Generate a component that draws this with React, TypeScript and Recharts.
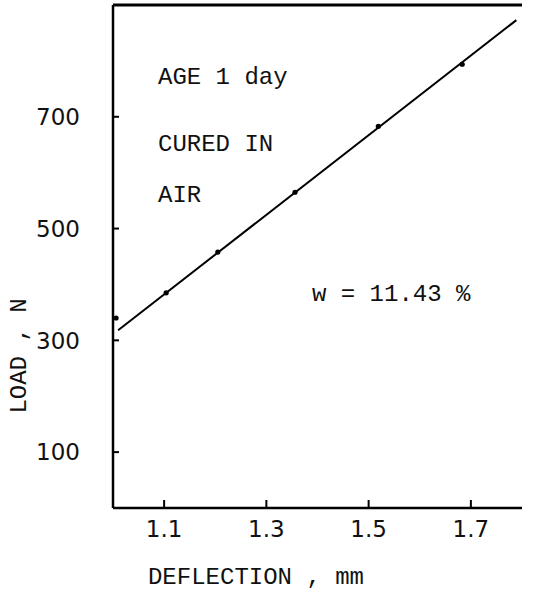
import React from 'react';
import { ComposedChart, Scatter, Line, XAxis, YAxis, ReferenceLine } from 'recharts';

const deflection = [1.006, 1.104, 1.205, 1.356, 1.519, 1.683];
const load = [340, 385, 458, 565, 683, 794];
const fitDeflection = [1.01, 1.789];
const fitLoad = [318, 873];
const xTicks = [1.1, 1.3, 1.5, 1.7];
const yTicks = [100, 300, 500, 700];

const points = deflection.map((x, i) => ({ x, y: load[i] }));
const fit = fitDeflection.map((x, i) => ({ x, y: fitLoad[i] }));

const mono = '"Liberation Mono", "DejaVu Sans Mono", monospace';
const sans = '"DejaVu Sans", sans-serif';

const YTick = (props: any) => {
  const { x, y, payload } = props;
  return (
    <g>
      <line x1={x} y1={y} x2={x + 6} y2={y} stroke="#000" strokeWidth={2} />
      <text x={x - 33} y={y} dy="0.36em" textAnchor="end" fontFamily={sans} fontSize={23} fill="#111">
        {payload.value}
      </text>
    </g>
  );
};

const XTick = (props: any) => {
  const { x, y, payload } = props;
  return (
    <g>
      <line x1={x} y1={y} x2={x} y2={y - 8} stroke="#000" strokeWidth={2} />
      <text x={x} y={y + 29} textAnchor="middle" fontFamily={sans} fontSize={23} fill="#111">
        {payload.value}
      </text>
    </g>
  );
};

const Dot = (props: any) => <circle cx={props.cx} cy={props.cy} r={2.6} fill="#000" />;

export default function App() {
  return (
    <div style={{ position: 'relative', width: 554, height: 595, background: '#fff' }}>
      <style>{'body{margin:0}'}</style>
      <ComposedChart width={554} height={595} margin={{ top: 5, right: 32, left: 0, bottom: 0 }}>
        <XAxis
          dataKey="x"
          type="number"
          domain={[1.0, 1.8]}
          ticks={xTicks}
          allowDataOverflow
          height={87}
          axisLine={{ stroke: '#000', strokeWidth: 2.5 }}
          tickLine={false}
          tickSize={0}
          tickMargin={0}
          tick={<XTick />}
        />
        <YAxis
          dataKey="y"
          type="number"
          domain={[0, 900]}
          ticks={yTicks}
          allowDataOverflow
          width={113}
          axisLine={{ stroke: '#000', strokeWidth: 2.5 }}
          tickLine={false}
          tickSize={0}
          tickMargin={0}
          tick={<YTick />}
        />
        <ReferenceLine y={900} stroke="#000" strokeWidth={3} />
        <Line data={fit} dataKey="y" stroke="#000" strokeWidth={2} dot={false} isAnimationActive={false} />
        <Scatter data={points} dataKey="y" shape={<Dot />} isAnimationActive={false} />
      </ComposedChart>
      <svg width={554} height={595} style={{ position: 'absolute', left: 0, top: 0, pointerEvents: 'none' }}>
        <g fontFamily={mono} fontSize={24} fill="#111">
          <text x={158} y={84}>AGE 1 day</text>
          <text x={158} y={151}>CURED IN</text>
          <text x={158} y={202}>AIR</text>
          <text x={312} y={301}>w = 11.43 %</text>
          <text x={256} y={584} textAnchor="middle">DEFLECTION , mm</text>
          <text x={26} y={356} textAnchor="middle" transform="rotate(-90 26 356)">LOAD , N</text>
        </g>
      </svg>
    </div>
  );
}
